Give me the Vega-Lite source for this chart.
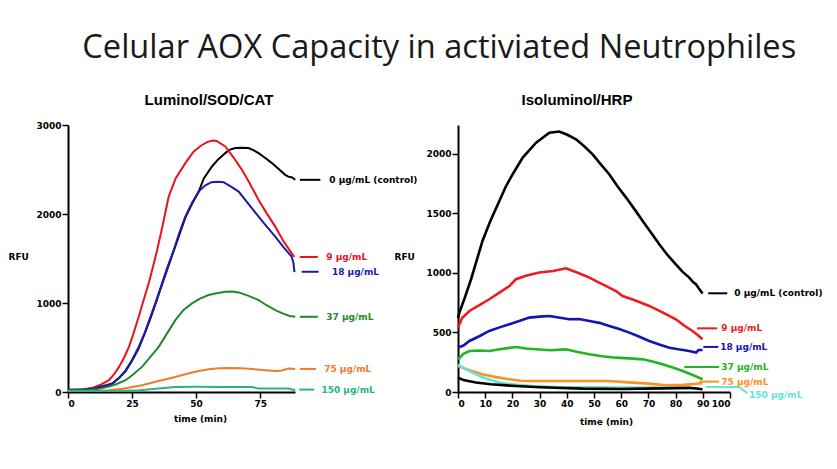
{
  "$schema": "https://vega.github.io/schema/vega-lite/v6.json",
  "background": "white",
  "padding": {"left": 8, "top": 32, "right": 5, "bottom": 5},
  "title": {"text": "Celular AOX Capacity in activiated Neutrophiles", "font": "Open Sans", "fontSize": 32.6, "fontWeight": "normal", "color": "#1a1a1a", "anchor": "middle", "frame": "bounds", "offset": 28, "dx": 24},
  "config": {
    "view": {"stroke": null},
    "axis": {"domainColor": "black", "domainWidth": 2, "tickColor": "black", "tickWidth": 1.5, "tickSize": 6, "labelPadding": 1, "labelFont": "DejaVu Sans", "labelFontWeight": "bold", "labelFontSize": 9, "labelColor": "black", "labelOverlap": false, "format": "d", "grid": false, "titleFont": "DejaVu Sans", "titleFontWeight": "bold", "titleFontSize": 9, "titleColor": "black"},
    "axisX": {"labelOverlap": false},
    "axisQuantitative": {"labelOverlap": false}
  },
  "datasets": {
    "left": [
      {"s":"L0","x":0,"y":25},{"s":"L0","x":8,"y":30},{"s":"L0","x":12,"y":45},{"s":"L0","x":15,"y":70},{"s":"L0","x":17.5,"y":100},{"s":"L0","x":20,"y":160},{"s":"L0","x":22.5,"y":235},{"s":"L0","x":25,"y":350},{"s":"L0","x":27.6,"y":490},{"s":"L0","x":30,"y":660},{"s":"L0","x":32.2,"y":830},{"s":"L0","x":34.5,"y":1020},{"s":"L0","x":36.7,"y":1210},{"s":"L0","x":39,"y":1400},{"s":"L0","x":41.3,"y":1590},{"s":"L0","x":43.5,"y":1770},{"s":"L0","x":45.8,"y":1960},{"s":"L0","x":48.5,"y":2120},{"s":"L0","x":51,"y":2250},{"s":"L0","x":53,"y":2400},{"s":"L0","x":56.2,"y":2534},{"s":"L0","x":58.5,"y":2610},{"s":"L0","x":61.4,"y":2684},{"s":"L0","x":63,"y":2720},{"s":"L0","x":65.3,"y":2741},{"s":"L0","x":68,"y":2745},{"s":"L0","x":70.5,"y":2741},{"s":"L0","x":72.5,"y":2715},{"s":"L0","x":74.4,"y":2684},{"s":"L0","x":77,"y":2630},{"s":"L0","x":79.6,"y":2572},{"s":"L0","x":82,"y":2510},{"s":"L0","x":84.8,"y":2440},{"s":"L0","x":86,"y":2420},{"s":"L0","x":87.5,"y":2410},{"s":"L0","x":88.7,"y":2384},
      {"s":"L9","x":0,"y":19},{"s":"L9","x":5,"y":22},{"s":"L9","x":10,"y":50},{"s":"L9","x":13,"y":85},{"s":"L9","x":16,"y":132},{"s":"L9","x":18,"y":200},{"s":"L9","x":19.9,"y":282},{"s":"L9","x":21.8,"y":380},{"s":"L9","x":23.8,"y":507},{"s":"L9","x":25.7,"y":670},{"s":"L9","x":27.6,"y":845},{"s":"L9","x":29.5,"y":1030},{"s":"L9","x":31.5,"y":1221},{"s":"L9","x":33.2,"y":1410},{"s":"L9","x":34.8,"y":1596},{"s":"L9","x":37,"y":1880},{"s":"L9","x":39.3,"y":2196},{"s":"L9","x":42,"y":2400},{"s":"L9","x":45.8,"y":2572},{"s":"L9","x":49,"y":2700},{"s":"L9","x":52,"y":2770},{"s":"L9","x":54.5,"y":2810},{"s":"L9","x":56.5,"y":2826},{"s":"L9","x":58,"y":2820},{"s":"L9","x":61.4,"y":2759},{"s":"L9","x":64.5,"y":2640},{"s":"L9","x":67.9,"y":2496},{"s":"L9","x":71,"y":2340},{"s":"L9","x":74.4,"y":2158},{"s":"L9","x":77.5,"y":2010},{"s":"L9","x":80.9,"y":1858},{"s":"L9","x":84,"y":1700},{"s":"L9","x":87.3,"y":1558},{"s":"L9","x":88.4,"y":1517},
      {"s":"L18","x":0,"y":20},{"s":"L18","x":5,"y":22},{"s":"L18","x":10,"y":40},{"s":"L18","x":14,"y":70},{"s":"L18","x":17.3,"y":95},{"s":"L18","x":20,"y":160},{"s":"L18","x":22.5,"y":244},{"s":"L18","x":25,"y":360},{"s":"L18","x":27.6,"y":507},{"s":"L18","x":30,"y":670},{"s":"L18","x":32.2,"y":845},{"s":"L18","x":34.5,"y":1030},{"s":"L18","x":36.7,"y":1221},{"s":"L18","x":38.8,"y":1400},{"s":"L18","x":41.3,"y":1596},{"s":"L18","x":43.5,"y":1790},{"s":"L18","x":45.8,"y":1971},{"s":"L18","x":48.5,"y":2130},{"s":"L18","x":51,"y":2252},{"s":"L18","x":53.5,"y":2320},{"s":"L18","x":56,"y":2358},{"s":"L18","x":58.5,"y":2362},{"s":"L18","x":60.7,"y":2358},{"s":"L18","x":63.5,"y":2310},{"s":"L18","x":66.6,"y":2252},{"s":"L18","x":70.5,"y":2110},{"s":"L18","x":74.4,"y":1971},{"s":"L18","x":77.5,"y":1860},{"s":"L18","x":80.9,"y":1745},{"s":"L18","x":84,"y":1630},{"s":"L18","x":87.3,"y":1520},{"s":"L18","x":88,"y":1450},{"s":"L18","x":88.4,"y":1348},
      {"s":"L37","x":0,"y":18},{"s":"L37","x":8,"y":22},{"s":"L37","x":12,"y":35},{"s":"L37","x":16,"y":60},{"s":"L37","x":19,"y":90},{"s":"L37","x":22.5,"y":132},{"s":"L37","x":25.5,"y":200},{"s":"L37","x":28.9,"y":282},{"s":"L37","x":32,"y":390},{"s":"L37","x":35.4,"y":507},{"s":"L37","x":38.5,"y":650},{"s":"L37","x":41.9,"y":807},{"s":"L37","x":45,"y":920},{"s":"L37","x":48.4,"y":995},{"s":"L37","x":51.5,"y":1050},{"s":"L37","x":54.9,"y":1089},{"s":"L37","x":58,"y":1110},{"s":"L37","x":61.4,"y":1126},{"s":"L37","x":64,"y":1128},{"s":"L37","x":66.6,"y":1119},{"s":"L37","x":70.5,"y":1080},{"s":"L37","x":74.4,"y":1033},{"s":"L37","x":77.5,"y":975},{"s":"L37","x":80.9,"y":920},{"s":"L37","x":84,"y":880},{"s":"L37","x":86.5,"y":855},{"s":"L37","x":88.7,"y":845},
      {"s":"L75","x":0,"y":12},{"s":"L75","x":8,"y":12},{"s":"L75","x":12,"y":14},{"s":"L75","x":16,"y":19},{"s":"L75","x":22,"y":40},{"s":"L75","x":28.9,"y":75},{"s":"L75","x":35,"y":120},{"s":"L75","x":41.9,"y":169},{"s":"L75","x":46.5,"y":205},{"s":"L75","x":51,"y":236},{"s":"L75","x":55,"y":255},{"s":"L75","x":58.8,"y":267},{"s":"L75","x":63,"y":270},{"s":"L75","x":67.8,"y":267},{"s":"L75","x":72,"y":258},{"s":"L75","x":76,"y":248},{"s":"L75","x":80.9,"y":236},{"s":"L75","x":83,"y":240},{"s":"L75","x":86,"y":263},{"s":"L75","x":88.7,"y":259},
      {"s":"L150","x":0,"y":10},{"s":"L150","x":10,"y":10},{"s":"L150","x":20,"y":12},{"s":"L150","x":28,"y":20},{"s":"L150","x":35.4,"y":38},{"s":"L150","x":41.9,"y":56},{"s":"L150","x":50,"y":58},{"s":"L150","x":60,"y":56},{"s":"L150","x":71.8,"y":56},{"s":"L150","x":74.4,"y":38},{"s":"L150","x":80,"y":38},{"s":"L150","x":86,"y":38},{"s":"L150","x":88.7,"y":19}
    ],
    "leftLead": [
      {"s":"L0","x":90.5,"y":2384},{"s":"L0","x":98.5,"y":2384},
      {"s":"L9","x":90.5,"y":1517},{"s":"L9","x":97.5,"y":1517},
      {"s":"L18","x":91.2,"y":1351},{"s":"L18","x":97.8,"y":1351},
      {"s":"L37","x":90.5,"y":845},{"s":"L37","x":97.5,"y":845},
      {"s":"L75","x":90.5,"y":259},{"s":"L75","x":96.8,"y":259},
      {"s":"L150","x":90.3,"y":27},{"s":"L150","x":96.1,"y":27}
    ],
    "leftLab": [
      {"s":"L0","x":102,"y":2384,"lab":"0 µg/mL (control)"},
      {"s":"L9","x":100.8,"y":1517,"lab":"9 µg/mL"},
      {"s":"L18","x":103,"y":1351,"lab":"18 µg/mL"},
      {"s":"L37","x":100.8,"y":845,"lab":"37 µg/mL"},
      {"s":"L75","x":100,"y":259,"lab":"75 µg/mL"},
      {"s":"L150","x":98.9,"y":27,"lab":"150 µg/mL"}
    ],
    "right": [
      {"s":"R0","x":0,"y":620},{"s":"R0","x":0.5,"y":666},{"s":"R0","x":2.3,"y":778},{"s":"R0","x":4.8,"y":946},{"s":"R0","x":9,"y":1267},{"s":"R0","x":12,"y":1440},{"s":"R0","x":15.2,"y":1602},{"s":"R0","x":17.5,"y":1720},{"s":"R0","x":20.1,"y":1827},{"s":"R0","x":23.8,"y":1967},{"s":"R0","x":28.7,"y":2092},{"s":"R0","x":33.6,"y":2176},{"s":"R0","x":37.2,"y":2185},{"s":"R0","x":40,"y":2160},{"s":"R0","x":43.4,"y":2120},{"s":"R0","x":46.5,"y":2060},{"s":"R0","x":49.5,"y":1994},{"s":"R0","x":52.5,"y":1910},{"s":"R0","x":55.6,"y":1827},{"s":"R0","x":58.5,"y":1730},{"s":"R0","x":61.8,"y":1631},{"s":"R0","x":65,"y":1530},{"s":"R0","x":67.9,"y":1435},{"s":"R0","x":71,"y":1335},{"s":"R0","x":74,"y":1239},{"s":"R0","x":77,"y":1150},{"s":"R0","x":80.1,"y":1071},{"s":"R0","x":82.5,"y":1010},{"s":"R0","x":85,"y":960},{"s":"R0","x":86.5,"y":920},{"s":"R0","x":87.5,"y":904},{"s":"R0","x":88.5,"y":870},{"s":"R0","x":89.9,"y":826},
      {"s":"R9","x":0,"y":540},{"s":"R9","x":1.5,"y":620},{"s":"R9","x":4.2,"y":680},{"s":"R9","x":8,"y":730},{"s":"R9","x":11.5,"y":778},{"s":"R9","x":15.2,"y":834},{"s":"R9","x":18.9,"y":889},{"s":"R9","x":21.3,"y":946},{"s":"R9","x":25,"y":975},{"s":"R9","x":29.9,"y":1002},{"s":"R9","x":35,"y":1015},{"s":"R9","x":39.7,"y":1038},{"s":"R9","x":44,"y":1000},{"s":"R9","x":48.3,"y":960},{"s":"R9","x":53,"y":905},{"s":"R9","x":58.1,"y":847},{"s":"R9","x":60.5,"y":805},{"s":"R9","x":65,"y":770},{"s":"R9","x":70.3,"y":722},{"s":"R9","x":75,"y":670},{"s":"R9","x":80.1,"y":610},{"s":"R9","x":83,"y":560},{"s":"R9","x":86.2,"y":512},{"s":"R9","x":88,"y":480},{"s":"R9","x":89.9,"y":442},
      {"s":"R18","x":0,"y":372},{"s":"R18","x":2,"y":390},{"s":"R18","x":4.2,"y":428},{"s":"R18","x":8,"y":470},{"s":"R18","x":11.5,"y":512},{"s":"R18","x":15,"y":540},{"s":"R18","x":18.9,"y":568},{"s":"R18","x":22.5,"y":595},{"s":"R18","x":26.2,"y":624},{"s":"R18","x":30,"y":632},{"s":"R18","x":33.6,"y":638},{"s":"R18","x":37,"y":625},{"s":"R18","x":40.9,"y":610},{"s":"R18","x":44.5,"y":612},{"s":"R18","x":48.3,"y":596},{"s":"R18","x":52,"y":580},{"s":"R18","x":55.6,"y":554},{"s":"R18","x":59,"y":530},{"s":"R18","x":63,"y":498},{"s":"R18","x":66.5,"y":465},{"s":"R18","x":70.3,"y":428},{"s":"R18","x":74,"y":398},{"s":"R18","x":77.7,"y":372},{"s":"R18","x":81,"y":358},{"s":"R18","x":85,"y":344},{"s":"R18","x":87.5,"y":331},{"s":"R18","x":88.5,"y":352},{"s":"R18","x":89.9,"y":352},
      {"s":"R37","x":0,"y":274},{"s":"R37","x":2,"y":320},{"s":"R37","x":4.2,"y":344},{"s":"R37","x":8,"y":348},{"s":"R37","x":11.5,"y":344},{"s":"R37","x":16,"y":360},{"s":"R37","x":21.3,"y":378},{"s":"R37","x":25,"y":365},{"s":"R37","x":28.7,"y":358},{"s":"R37","x":34,"y":350},{"s":"R37","x":39.7,"y":358},{"s":"R37","x":44,"y":335},{"s":"R37","x":48.3,"y":316},{"s":"R37","x":53,"y":300},{"s":"R37","x":58.1,"y":288},{"s":"R37","x":63,"y":282},{"s":"R37","x":67.9,"y":274},{"s":"R37","x":71.5,"y":255},{"s":"R37","x":75.2,"y":232},{"s":"R37","x":79,"y":205},{"s":"R37","x":82.6,"y":176},{"s":"R37","x":86.5,"y":140},{"s":"R37","x":89.9,"y":107},
      {"s":"R75","x":0,"y":218},{"s":"R75","x":4,"y":185},{"s":"R75","x":9,"y":148},{"s":"R75","x":14,"y":125},{"s":"R75","x":18.9,"y":107},{"s":"R75","x":23,"y":95},{"s":"R75","x":27.4,"y":92},{"s":"R75","x":36,"y":92},{"s":"R75","x":45.8,"y":92},{"s":"R75","x":55,"y":92},{"s":"R75","x":64.2,"y":79},{"s":"R75","x":70,"y":70},{"s":"R75","x":76.5,"y":56},{"s":"R75","x":83,"y":60},{"s":"R75","x":89.9,"y":73},
      {"s":"R150","x":0,"y":230},{"s":"R150","x":3,"y":190},{"s":"R150","x":6.6,"y":148},{"s":"R150","x":10,"y":115},{"s":"R150","x":15.2,"y":79},{"s":"R150","x":21,"y":62},{"s":"R150","x":27.4,"y":50},{"s":"R150","x":36,"y":42},{"s":"R150","x":45.8,"y":39},{"s":"R150","x":60,"y":38},{"s":"R150","x":75,"y":38},{"s":"R150","x":88.5,"y":30},
      {"s":"Rb","x":0,"y":121},{"s":"Rb","x":2,"y":100},{"s":"Rb","x":6.6,"y":79},{"s":"Rb","x":12,"y":65},{"s":"Rb","x":21.3,"y":50},{"s":"Rb","x":30,"y":40},{"s":"Rb","x":45.8,"y":28},{"s":"Rb","x":60,"y":25},{"s":"Rb","x":75,"y":30},{"s":"Rb","x":85,"y":35},{"s":"Rb","x":89.9,"y":23}
    ],
    "rightLead": [
      {"s":"R0","x":92,"y":828},{"s":"R0","x":99,"y":828},
      {"s":"R9","x":87.9,"y":534},{"s":"R9","x":95.3,"y":534},
      {"s":"R18","x":90.2,"y":378},{"s":"R18","x":95.7,"y":378},
      {"s":"R37","x":83.2,"y":210},{"s":"R37","x":96,"y":210},
      {"s":"R75","x":88.7,"y":87},{"s":"R75","x":96,"y":87},
      {"s":"R150","x":91.2,"y":42},{"s":"R150","x":103.4,"y":42},{"s":"R150","x":106.4,"y":-11}
    ],
    "rightLab": [
      {"s":"R0","x":101.6,"y":828,"lab":"0 µg/mL (control)"},
      {"s":"R9","x":96.8,"y":534,"lab":"9 µg/mL"},
      {"s":"R18","x":96.4,"y":378,"lab":"18 µg/mL"},
      {"s":"R37","x":96.8,"y":210,"lab":"37 µg/mL"},
      {"s":"R75","x":96.8,"y":87,"lab":"75 µg/mL"},
      {"s":"R150","x":107,"y":-28,"lab":"150 µg/mL"}
    ]
  },
  "bounds": "flush",
  "spacing": 163,
  "resolve": {"scale": {"color": "independent"}},
  "hconcat": [
    {
      "width": 227, "height": 267,
      "title": {"text": "Luminol/SOD/CAT", "font": "Liberation Sans", "fontWeight": "bold", "fontSize": 15, "color": "black", "frame": "group", "anchor": "middle", "dx": 27.5, "offset": 13},
      "layer": [
        {"data": {"name": "left"}, "mark": {"type": "line", "strokeWidth": 2, "clip": false},
         "encoding": {
           "x": {"field": "x", "type": "quantitative", "scale": {"domain": [0, 88.6], "nice": false, "zero": false}, "axis": {"values": [0,25,50,75], "labelOverlap": false, "title": "time (min)", "titlePadding": 6, "titleX": 132}},
           "y": {"field": "y", "type": "quantitative", "scale": {"domain": [0, 3000], "nice": false}, "axis": {"values": [0,1000,2000,3000], "labelOverlap": false, "title": "RFU", "titleAngle": 0, "titleAlign": "left", "titleBaseline": "middle", "titleX": -60, "titleY": 131}},
           "color": {"field": "s", "type": "nominal", "scale": {"domain": ["L0","L9","L18","L37","L75","L150"], "range": ["#000000","#e8141c","#1c1ca8","#1f8a2a","#f07b30","#2db37f"]}, "legend": null},
           "detail": {"field": "s"}
         }},
        {"data": {"name": "leftLead"}, "mark": {"type": "line", "strokeWidth": 2, "clip": false},
         "encoding": {"x": {"field": "x", "type": "quantitative"}, "y": {"field": "y", "type": "quantitative"}, "color": {"field": "s", "type": "nominal", "legend": null}, "detail": {"field": "s"}}},
        {"data": {"name": "leftLab"}, "mark": {"type": "text", "align": "left", "baseline": "middle", "font": "DejaVu Sans", "fontWeight": "bold", "fontSize": 9, "clip": false},
         "encoding": {"x": {"field": "x", "type": "quantitative"}, "y": {"field": "y", "type": "quantitative"}, "text": {"field": "lab"}, "color": {"field": "s", "type": "nominal", "legend": null}}}
      ]
    },
    {
      "width": 272, "height": 267,
      "title": {"text": "Isoluminol/HRP", "font": "Liberation Sans", "fontWeight": "bold", "fontSize": 15, "color": "black", "frame": "group", "anchor": "middle", "dx": -17, "offset": 17},
      "layer": [
        {"data": {"name": "right"}, "mark": {"type": "line", "strokeWidth": 2.6, "clip": false},
         "encoding": {
           "x": {"field": "x", "type": "quantitative", "scale": {"domain": [0, 100], "nice": false}, "axis": {"values": [0,10,20,30,40,50,60,70,80,90,100], "tickCount": 11, "labelOverlap": false, "labelSeparation": 0, "labelBound": false, "title": "time (min)", "titlePadding": 9, "titleX": 148}},
           "y": {"field": "y", "type": "quantitative", "scale": {"domain": [0, 2240], "nice": false}, "axis": {"values": [0,250,500,750,1000,1250,1500,1750,2000], "labelOverlap": false, "title": "RFU", "titleAngle": 0, "titleAlign": "left", "titleBaseline": "middle", "titleX": -64, "titleY": 131}},
           "color": {"field": "s", "type": "nominal", "scale": {"domain": ["R0","R9","R18","R37","R75","R150","Rb"], "range": ["#000000","#ee1c1c","#1414b4","#22b422","#ff8f1f","#5ee6d6","#000000"]}, "legend": null},
           "detail": {"field": "s"}
         }},
        {"data": {"name": "rightLead"}, "mark": {"type": "line", "strokeWidth": 2, "clip": false},
         "encoding": {"x": {"field": "x", "type": "quantitative"}, "y": {"field": "y", "type": "quantitative"}, "color": {"field": "s", "type": "nominal", "legend": null}, "detail": {"field": "s"}}},
        {"data": {"name": "rightLab"}, "mark": {"type": "text", "align": "left", "baseline": "middle", "font": "DejaVu Sans", "fontWeight": "bold", "fontSize": 9, "clip": false},
         "encoding": {"x": {"field": "x", "type": "quantitative"}, "y": {"field": "y", "type": "quantitative"}, "text": {"field": "lab"}, "color": {"field": "s", "type": "nominal", "legend": null}}}
      ]
    }
  ]
}
